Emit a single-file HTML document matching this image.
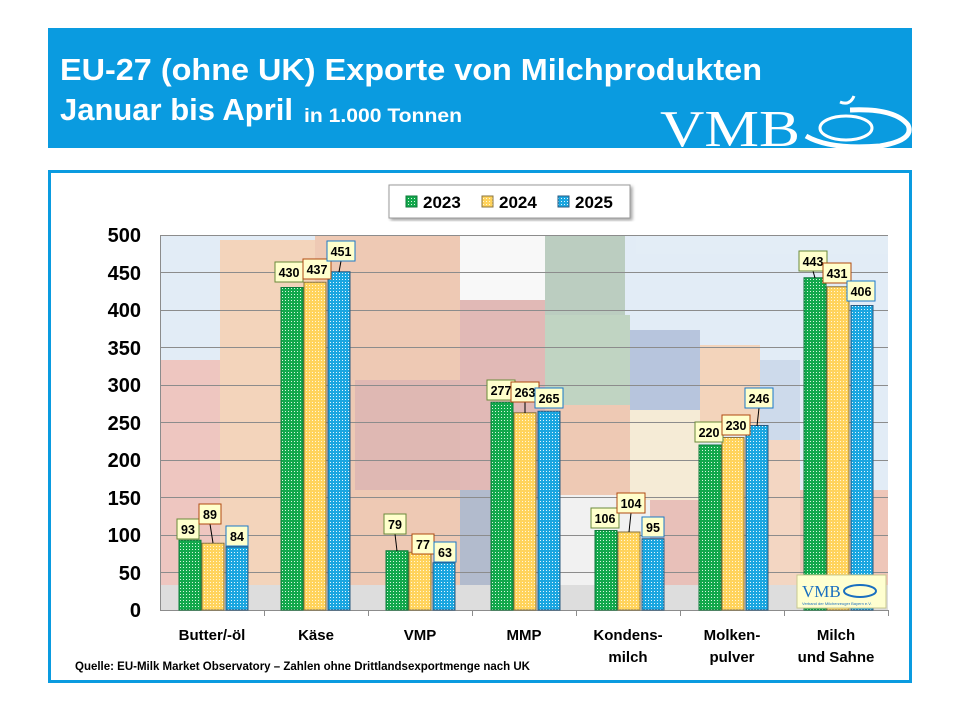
<!DOCTYPE html>
<html><head><meta charset="utf-8"><style>html,body{margin:0;padding:0;background:#fff}svg{display:block}</style></head>
<body>
<svg width="960" height="720" viewBox="0 0 960 720" xmlns="http://www.w3.org/2000/svg" font-family="'Liberation Sans',sans-serif">
<defs>
<pattern id="pg" width="3" height="3" patternUnits="userSpaceOnUse"><rect width="3" height="3" fill="#12a84c"/><rect width="1" height="1" fill="#d8f5e0"/></pattern>
<pattern id="py" width="3" height="3" patternUnits="userSpaceOnUse"><rect width="3" height="3" fill="#ffd35c"/><rect width="1" height="1" fill="#fff6d8"/></pattern>
<pattern id="pb" width="3" height="3" patternUnits="userSpaceOnUse"><rect width="3" height="3" fill="#1aa6e0"/><rect width="1" height="1" fill="#e2f5ff"/></pattern>
<filter id="sh"><feDropShadow dx="2" dy="2" stdDeviation="1.5" flood-opacity="0.35"/></filter>
</defs>
<rect width="960" height="720" fill="#fff"/>
<!-- header -->
<rect x="48" y="28" width="864" height="120" fill="#0a9be0"/>
<text x="60" y="80" fill="#fff" font-size="31" font-weight="bold" textLength="702" lengthAdjust="spacingAndGlyphs">EU-27 (ohne UK) Exporte von Milchprodukten</text>
<text x="60" y="120" fill="#fff" font-size="31" font-weight="bold" textLength="233" lengthAdjust="spacingAndGlyphs">Januar bis April</text>
<text x="304" y="122" fill="#fff" font-size="19" font-weight="bold" textLength="158" lengthAdjust="spacingAndGlyphs">in 1.000 Tonnen</text>
<text x="660" y="146" fill="#fff" font-size="52" font-family="'Liberation Serif',serif" textLength="140" lengthAdjust="spacingAndGlyphs">VMB</text>
<path d="M806 136 Q830 150 880 146 Q915 140 908 125 Q895 108 850 110" fill="none" stroke="#fff" stroke-width="5"/>
<ellipse cx="846" cy="128" rx="26" ry="12" fill="none" stroke="#fff" stroke-width="3"/>
<path d="M840 102 q10 4 14 -6" stroke="#fff" stroke-width="3" fill="none"/>
<!-- frame -->
<rect x="49.5" y="171.5" width="861" height="510" fill="#fff" stroke="#0a9be0" stroke-width="3"/>
<!-- photo background -->
<g opacity="0.42">
<rect x="160" y="235" width="728" height="375" fill="#bcd3ea"/>
<rect x="160" y="360" width="60" height="250" fill="#d9796a"/>
<rect x="220" y="240" width="95" height="370" fill="#e39a5e"/>
<rect x="315" y="235" width="145" height="375" fill="#d9804f"/>
<rect x="355" y="380" width="105" height="110" fill="#b5574c"/>
<rect x="460" y="235" width="85" height="70" fill="#f0f0f0"/>
<rect x="460" y="300" width="85" height="200" fill="#b85a52"/>
<rect x="460" y="490" width="60" height="120" fill="#4a5e8a"/>
<rect x="545" y="235" width="80" height="80" fill="#5f8a6a"/>
<rect x="545" y="315" width="85" height="90" fill="#6a9a70"/>
<rect x="545" y="405" width="105" height="90" fill="#d9804f"/>
<rect x="560" y="495" width="90" height="115" fill="#e0e0e0"/>
<rect x="630" y="330" width="70" height="80" fill="#5577b0"/>
<rect x="630" y="410" width="70" height="90" fill="#e8d0a0"/>
<rect x="650" y="500" width="80" height="110" fill="#c96a5a"/>
<rect x="700" y="345" width="60" height="90" fill="#e39a5e"/>
<rect x="760" y="360" width="40" height="80" fill="#8aa8d0"/>
<rect x="730" y="440" width="70" height="150" fill="#e3a070"/>
<rect x="800" y="490" width="88" height="120" fill="#d97a5a"/>
<rect x="160" y="585" width="728" height="25" fill="#b0b0b0"/>
</g>
<!-- grid -->
<g stroke="#8c8c8c" stroke-width="1">
<line x1="160" y1="235.5" x2="888" y2="235.5"/><line x1="160" y1="272.5" x2="888" y2="272.5"/>
<line x1="160" y1="310.5" x2="888" y2="310.5"/><line x1="160" y1="347.5" x2="888" y2="347.5"/>
<line x1="160" y1="385.5" x2="888" y2="385.5"/><line x1="160" y1="422.5" x2="888" y2="422.5"/>
<line x1="160" y1="460.5" x2="888" y2="460.5"/><line x1="160" y1="497.5" x2="888" y2="497.5"/>
<line x1="160" y1="535.5" x2="888" y2="535.5"/><line x1="160" y1="572.5" x2="888" y2="572.5"/>
<line x1="160" y1="610.5" x2="888" y2="610.5"/><line x1="160.5" y1="235" x2="160.5" y2="610"/>
<line x1="264.5" y1="610" x2="264.5" y2="616"/><line x1="368.5" y1="610" x2="368.5" y2="616"/>
<line x1="472.5" y1="610" x2="472.5" y2="616"/><line x1="576.5" y1="610" x2="576.5" y2="616"/>
<line x1="680.5" y1="610" x2="680.5" y2="616"/><line x1="784.5" y1="610" x2="784.5" y2="616"/>
<line x1="888.5" y1="610" x2="888.5" y2="616"/>
</g>
<!-- y labels -->
<g font-size="20" font-weight="bold" text-anchor="end" fill="#000">
<text x="141" y="242">500</text><text x="141" y="280">450</text><text x="141" y="317">400</text>
<text x="141" y="355">350</text><text x="141" y="392">300</text><text x="141" y="430">250</text>
<text x="141" y="467">200</text><text x="141" y="505">150</text><text x="141" y="542">100</text>
<text x="141" y="580">50</text><text x="141" y="617">0</text>
</g>
<!-- bars -->
<g stroke-width="1">
<rect x="179" y="540.25" width="22" height="69.75" fill="url(#pg)" stroke="#0e7a3a"/>
<rect x="202" y="543.25" width="22" height="66.75" fill="url(#py)" stroke="#8a7440"/>
<rect x="226" y="547" width="22" height="63" fill="url(#pb)" stroke="#2a5a80"/>
<rect x="281" y="287.5" width="22" height="322.5" fill="url(#pg)" stroke="#0e7a3a"/>
<rect x="304" y="282.25" width="22" height="327.75" fill="url(#py)" stroke="#8a7440"/>
<rect x="328" y="271.75" width="22" height="338.25" fill="url(#pb)" stroke="#2a5a80"/>
<rect x="386" y="550.75" width="22" height="59.25" fill="url(#pg)" stroke="#0e7a3a"/>
<rect x="409" y="552.25" width="22" height="57.75" fill="url(#py)" stroke="#8a7440"/>
<rect x="433" y="562.75" width="22" height="47.25" fill="url(#pb)" stroke="#2a5a80"/>
<rect x="491" y="402.25" width="22" height="207.75" fill="url(#pg)" stroke="#0e7a3a"/>
<rect x="514" y="412.75" width="22" height="197.25" fill="url(#py)" stroke="#8a7440"/>
<rect x="538" y="411.25" width="22" height="198.75" fill="url(#pb)" stroke="#2a5a80"/>
<rect x="595" y="530.5" width="22" height="79.5" fill="url(#pg)" stroke="#0e7a3a"/>
<rect x="618" y="532" width="22" height="78" fill="url(#py)" stroke="#8a7440"/>
<rect x="642" y="538.75" width="22" height="71.25" fill="url(#pb)" stroke="#2a5a80"/>
<rect x="699" y="445" width="22" height="165" fill="url(#pg)" stroke="#0e7a3a"/>
<rect x="722" y="437.5" width="22" height="172.5" fill="url(#py)" stroke="#8a7440"/>
<rect x="746" y="425.5" width="22" height="184.5" fill="url(#pb)" stroke="#2a5a80"/>
<rect x="804" y="277.75" width="22" height="332.25" fill="url(#pg)" stroke="#0e7a3a"/>
<rect x="827" y="286.75" width="22" height="323.25" fill="url(#py)" stroke="#8a7440"/>
<rect x="851" y="305.5" width="22" height="304.5" fill="url(#pb)" stroke="#2a5a80"/>
</g>
<!-- small logo -->
<rect x="797" y="575" width="89" height="33" fill="#ffffd0" stroke="#c8c890"/>
<text x="802" y="597" font-size="17" fill="#1a6fc0" font-family="'Liberation Serif',serif">VMB</text>
<ellipse cx="860" cy="591" rx="16" ry="6" fill="none" stroke="#1a6fc0" stroke-width="2"/>
<text x="802" y="605" font-size="4" fill="#1a6fc0">Verband der Milcherzeuger Bayern e.V.</text>
<!-- leader lines -->
<g stroke="#000" stroke-width="1">
<line x1="210" y1="524" x2="213" y2="543"/>
<line x1="341" y1="261" x2="339" y2="272"/>
<line x1="395" y1="534" x2="397" y2="551"/>
<line x1="525" y1="402" x2="525" y2="413"/>
<line x1="631" y1="513" x2="629" y2="532"/>
<line x1="759" y1="408" x2="757" y2="426"/>
<line x1="813" y1="271" x2="815" y2="278"/>
</g>
<!-- value labels -->
<g font-size="12.5" font-weight="bold" text-anchor="middle" fill="#000">
<rect x="177" y="519" width="22" height="20" fill="#ffffcc" stroke="#6a8a3a"/><text x="188" y="534">93</text>
<rect x="199" y="504" width="22" height="20" fill="#ffffcc" stroke="#b04a10"/><text x="210" y="519">89</text>
<rect x="226" y="526" width="22" height="20" fill="#ffffcc" stroke="#1a78c8"/><text x="237" y="541">84</text>
<rect x="275" y="262" width="28" height="20" fill="#ffffcc" stroke="#6a8a3a"/><text x="289" y="277">430</text>
<rect x="303" y="259" width="28" height="20" fill="#ffffcc" stroke="#b04a10"/><text x="317" y="274">437</text>
<rect x="327" y="241" width="28" height="20" fill="#ffffcc" stroke="#1a78c8"/><text x="341" y="256">451</text>
<rect x="384" y="514" width="22" height="20" fill="#ffffcc" stroke="#6a8a3a"/><text x="395" y="529">79</text>
<rect x="412" y="534" width="22" height="20" fill="#ffffcc" stroke="#b04a10"/><text x="423" y="549">77</text>
<rect x="434" y="542" width="22" height="20" fill="#ffffcc" stroke="#1a78c8"/><text x="445" y="557">63</text>
<rect x="487" y="380" width="28" height="20" fill="#ffffcc" stroke="#6a8a3a"/><text x="501" y="395">277</text>
<rect x="511" y="382" width="28" height="20" fill="#ffffcc" stroke="#b04a10"/><text x="525" y="397">263</text>
<rect x="535" y="388" width="28" height="20" fill="#ffffcc" stroke="#1a78c8"/><text x="549" y="403">265</text>
<rect x="591" y="508" width="28" height="20" fill="#ffffcc" stroke="#6a8a3a"/><text x="605" y="523">106</text>
<rect x="617" y="493" width="28" height="20" fill="#ffffcc" stroke="#b04a10"/><text x="631" y="508">104</text>
<rect x="642" y="517" width="22" height="20" fill="#ffffcc" stroke="#1a78c8"/><text x="653" y="532">95</text>
<rect x="695" y="422" width="28" height="20" fill="#ffffcc" stroke="#6a8a3a"/><text x="709" y="437">220</text>
<rect x="722" y="415" width="28" height="20" fill="#ffffcc" stroke="#b04a10"/><text x="736" y="430">230</text>
<rect x="745" y="388" width="28" height="20" fill="#ffffcc" stroke="#1a78c8"/><text x="759" y="403">246</text>
<rect x="799" y="251" width="28" height="20" fill="#ffffcc" stroke="#6a8a3a"/><text x="813" y="266">443</text>
<rect x="823" y="263" width="28" height="20" fill="#ffffcc" stroke="#b04a10"/><text x="837" y="278">431</text>
<rect x="847" y="281" width="28" height="20" fill="#ffffcc" stroke="#1a78c8"/><text x="861" y="296">406</text>
</g>
<!-- legend -->
<rect x="389" y="185" width="241" height="33" fill="#fff" stroke="#9a9a9a" filter="url(#sh)"/>
<rect x="406" y="196" width="11" height="11" fill="url(#pg)" stroke="#0e7a3a"/>
<rect x="482" y="196" width="11" height="11" fill="url(#py)" stroke="#8a7440"/>
<rect x="558" y="196" width="11" height="11" fill="url(#pb)" stroke="#2a5a80"/>
<g font-size="17" font-weight="bold" fill="#000">
<text x="423" y="208">2023</text><text x="499" y="208">2024</text><text x="575" y="208">2025</text>
</g>
<!-- categories -->
<g font-size="15" font-weight="bold" text-anchor="middle" fill="#000">
<text x="212" y="640">Butter/-öl</text>
<text x="316" y="640">Käse</text>
<text x="420" y="640">VMP</text>
<text x="524" y="640">MMP</text>
<text x="628" y="640">Kondens-</text><text x="628" y="662">milch</text>
<text x="732" y="640">Molken-</text><text x="732" y="662">pulver</text>
<text x="836" y="640">Milch</text><text x="836" y="662">und Sahne</text>
</g>
<text x="75" y="670" font-size="11.5" font-weight="bold" fill="#000">Quelle: EU-Milk Market Observatory – Zahlen ohne Drittlandsexportmenge nach UK</text>
</svg>
</body></html>
